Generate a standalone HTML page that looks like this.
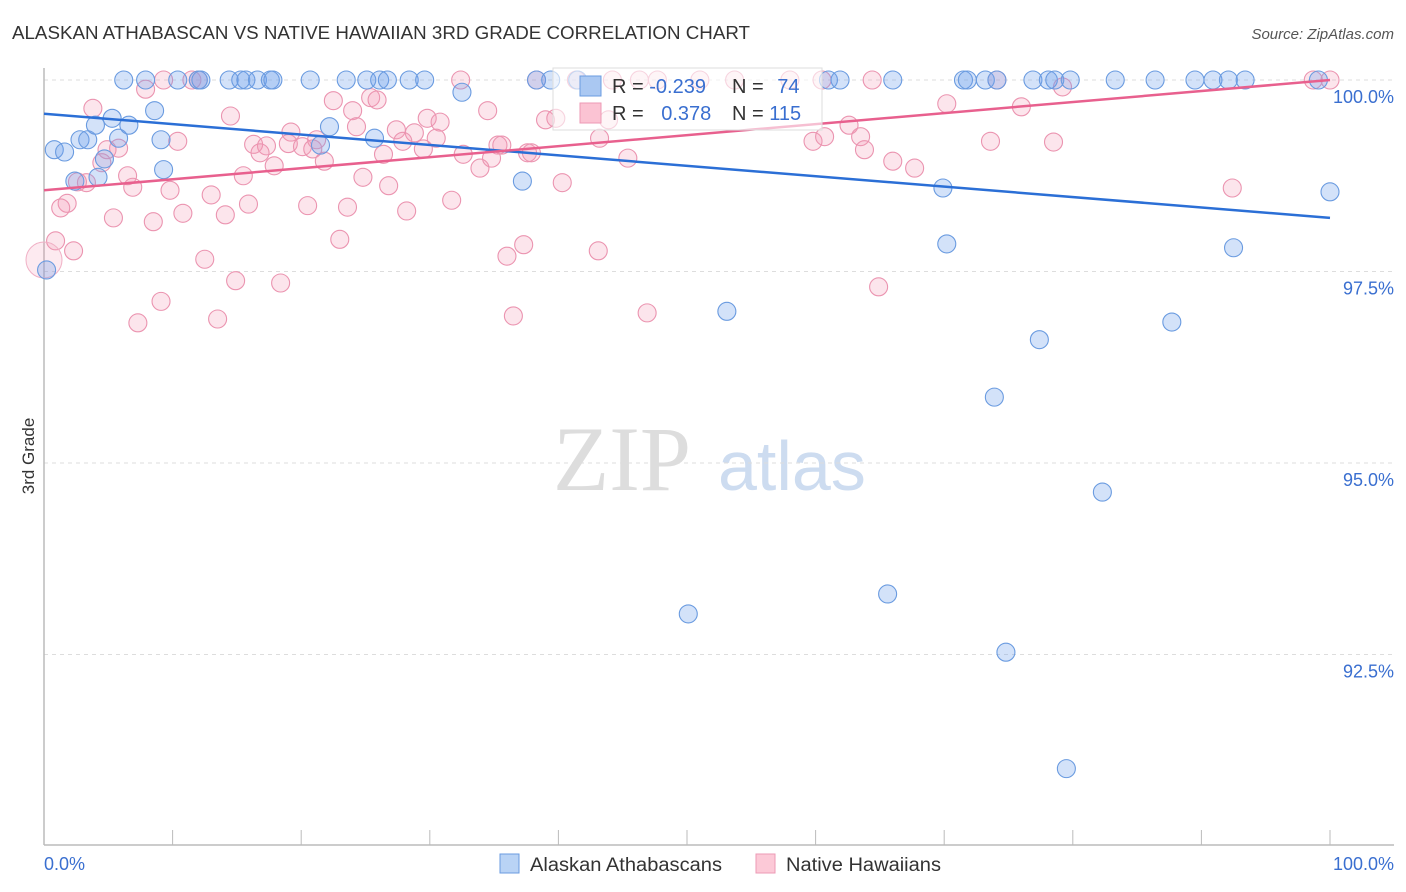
<!DOCTYPE html>
<html><head><meta charset="utf-8">
<style>
body{margin:0;background:#fff;font-family:"Liberation Sans",sans-serif;}
svg{display:block}
</style></head>
<body>
<svg id="chart" width="1406" height="892" viewBox="0 0 1406 892">
<text x="12" y="39" font-size="18" fill="#333" textLength="738" lengthAdjust="spacingAndGlyphs">ALASKAN ATHABASCAN VS NATIVE HAWAIIAN 3RD GRADE CORRELATION CHART</text>
<text x="1394" y="39" font-size="15" fill="#555" font-style="italic" text-anchor="end">Source: ZipAtlas.com</text>
<text x="34" y="456" font-size="17" fill="#333" transform="rotate(-90 34 456)" text-anchor="middle">3rd Grade</text>
<g><text x="553" y="490" font-size="92" fill="#ddd" font-family="Liberation Serif,serif">ZIP</text><text x="718" y="490" font-size="70" fill="#cddcf0">atlas</text></g>
<g id="grid"></g>
<g id="ticks"></g>
<g id="pts"></g>
<g id="trend"></g>
<g>
<rect x="553" y="68" width="269" height="62" fill="#fff" fill-opacity="0.6" stroke="#ddd"/>
<rect x="580" y="76" width="21" height="20" fill="#aac8f2" stroke="#6a9be0"/>
<rect x="580" y="103" width="21" height="20" fill="#fbc3d3" stroke="#ec9ab5"/>
<text x="612" y="93" font-size="20" fill="#333">R = <tspan fill="#3a6fd0">-0.239</tspan></text>
<text x="732" y="93" font-size="20" fill="#333">N = <tspan fill="#3a6fd0" dx="8">74</tspan></text>
<text x="612" y="120" font-size="20" fill="#333">R = <tspan fill="#3a6fd0" dx="12">0.378</tspan></text>
<text x="732" y="120" font-size="20" fill="#333">N = <tspan fill="#3a6fd0">115</tspan></text>
</g>
<g>
<rect x="500" y="854" width="19" height="19" fill="#b9d3f5" stroke="#6a9be0"/>
<text x="530" y="871" font-size="19" fill="#333" textLength="192" lengthAdjust="spacingAndGlyphs">Alaskan Athabascans</text>
<rect x="756" y="854" width="19" height="19" fill="#fcc9d7" stroke="#ec9ab5"/>
<text x="786" y="871" font-size="19" fill="#333" textLength="155" lengthAdjust="spacingAndGlyphs">Native Hawaiians</text>
</g>
<text x="44" y="870" font-size="18" fill="#3a6fd0">0.0%</text>
<text x="1394" y="870" font-size="18" fill="#3a6fd0" text-anchor="end">100.0%</text>
</svg>
<script>
const yTicks=[100,97.5,95,92.5];
const yTickLabels=["100.0%","97.5%","95.0%","92.5%"];
const xTicks=[0,10,20,30,40,50,60,70,80,90,100];
const blueX=[6.2,7.9,10.4,12.0,12.2,14.4,15.3,15.7,16.6,17.6,17.8,20.7,23.5,25.1,26.1,26.7,28.4,29.6,38.3,39.4,41.5,61.0,61.9,66.0,71.5,71.8,73.2,74.1,76.9,78.1,78.6,79.8,83.3,86.4,89.5,90.9,92.1,93.4,99.1,
32.5,0.8,1.6,2.8,3.4,2.4,4.2,4.7,5.3,4.0,5.8,6.6,8.6,9.1,9.3,22.2,21.5,25.7,37.2,69.9,70.2,92.5,100,53.1,77.4,87.7,73.9,82.3,65.6,50.1,74.8,79.5,0.2];
const blueY=[100,100,100,100,100,100,100,100,100,100,100,100,100,100,100,100,100,100,100,100,100,100,100,100,100,100,100,100,100,100,100,100,100,100,100,100,100,100,100,
99.84,99.09,99.06,99.22,99.22,98.68,98.73,98.97,99.50,99.41,99.24,99.41,99.60,99.22,98.83,99.39,99.15,99.24,98.68,98.59,97.86,97.81,98.54,96.98,96.61,96.84,95.86,94.62,93.29,93.03,92.53,91.01,97.52];
const pinkX=[9.3,11.5,12.0,32.4,7.9,3.8,22.5,25.4,25.9,24.0,34.5,29.8,30.8,24.3,27.4,28.8,27.9,30.5,29.5,14.5,10.4,19.2,19.0,16.3,17.3,16.8,20.1,20.9,21.2,21.8,4.9,5.8,4.5,6.5,6.9,3.3,2.6,9.8,15.5,17.9,24.8,26.4,26.8,32.6,33.9,35.3,34.8,37.6,1.8,1.3,13.0,10.8,5.4,8.5,14.1,15.9,20.5,23.6,28.2,31.7,0.9,2.3,12.5,14.9,18.4,23.0,9.1,7.3,13.5,36.0,37.3,36.5,39.0,39.8,43.9,43.2,45.4,37.9,35.6,43.1,46.9,40.3,59.8,60.7,62.6,63.5,63.8,66.0,67.7,70.2,73.6,64.9,64.4,76.0,78.5,92.4,79.2,74.1,98.7,100,41.4,44.2,46.3,47.7,51.0,53.7,58.0,60.5,38.3];
const pinkY=[100,100,100,100,99.88,99.63,99.73,99.77,99.74,99.60,99.60,99.50,99.45,99.39,99.35,99.31,99.20,99.24,99.10,99.53,99.20,99.32,99.17,99.16,99.14,99.05,99.13,99.10,99.22,98.94,99.09,99.11,98.92,98.75,98.60,98.66,98.67,98.56,98.75,98.88,98.73,99.03,98.62,99.03,98.85,99.15,98.98,99.05,98.39,98.33,98.50,98.26,98.20,98.15,98.24,98.38,98.36,98.34,98.29,98.43,97.90,97.77,97.66,97.38,97.35,97.92,97.11,96.83,96.88,97.70,97.85,96.92,99.48,99.50,99.48,99.24,98.98,99.05,99.15,97.77,96.96,98.66,99.20,99.26,99.41,99.26,99.09,98.94,98.85,99.69,99.20,97.30,100,99.65,99.19,98.59,99.91,100,100,100,100,100,100,100,100,100,100,100,100];
const blueTrend=[99.56,98.20];
const pinkTrend=[98.56,100.0];
const NS='http://www.w3.org/2000/svg';
const X=v=>44+v*12.86;
const Y=v=>80+(100-v)*76.6;
function mk(tag,attrs,parent){const e=document.createElementNS(NS,tag);for(const k in attrs)e.setAttribute(k,attrs[k]);parent.appendChild(e);return e;}
const grid=document.getElementById('grid'),ticks=document.getElementById('ticks');
yTicks.forEach((t,i)=>{
 const l=mk('line',{x1:44,x2:1394,y1:Y(t),y2:Y(t),stroke:'#ddd','stroke-dasharray':'4,4'},grid);
 
 
 const tx=mk('text',{x:1394,y:Y(t)+23,'font-size':18,fill:'#3a6fd0','text-anchor':'end'},ticks);
 tx.textContent=yTickLabels[i];
 
 
});
const ax=mk('line',{x1:44,x2:1394,y1:845,y2:845,stroke:'#bbb','stroke-width':1.5},ticks);


const ay=mk('line',{x1:44,x2:44,y1:68,y2:845,stroke:'#bbb','stroke-width':1.5},ticks);


xTicks.forEach(t=>{
 const l=mk('line',{x1:X(t),x2:X(t),y1:830,y2:845,stroke:'#bbb'},ticks);
 
 
});
const pts=document.getElementById('pts');
pinkX.forEach((x,i)=>{
 const c=mk('circle',{cx:X(x),cy:Y(pinkY[i]),r:9,fill:'rgba(245,150,180,0.25)',stroke:'#eb94b0','stroke-width':1.1},pts);
 
 
});
const bigc=mk('circle',{cx:X(0),cy:Y(97.65),r:18,fill:'rgba(245,150,180,0.2)',stroke:'#f0b0c5','stroke-width':1},pts);


blueX.forEach((x,i)=>{
 const c=mk('circle',{cx:X(x),cy:Y(blueY[i]),r:9,fill:'rgba(110,160,235,0.3)',stroke:'#6a9be0','stroke-width':1.1},pts);
 
 
});
const tr=document.getElementById('trend');
const bl=mk('line',{x1:X(0),y1:Y(blueTrend[0]),x2:X(100),y2:Y(blueTrend[1]),stroke:'#2b6fd6','stroke-width':2.5},tr);


const pl=mk('line',{x1:X(0),y1:Y(pinkTrend[0]),x2:X(100),y2:Y(pinkTrend[1]),stroke:'#e8608e','stroke-width':2.5},tr);


</script>
</body></html>
